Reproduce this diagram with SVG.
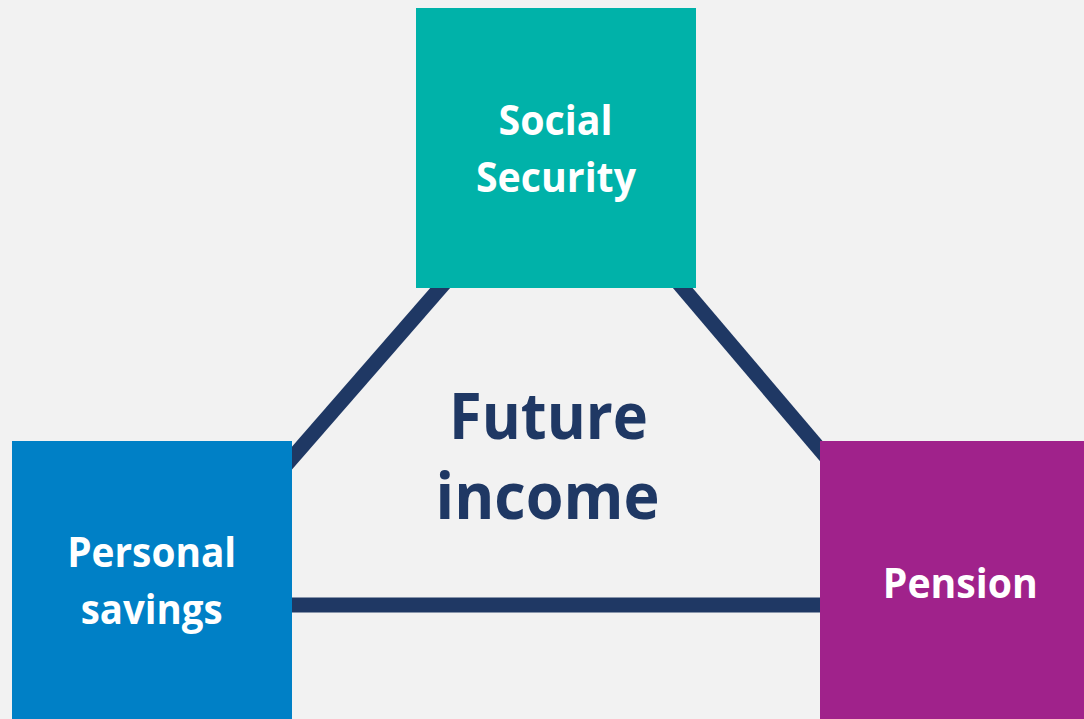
<svg xmlns="http://www.w3.org/2000/svg" width="1084" height="719" viewBox="0 0 1084 719">
  <style>
    .box-label { font-family: "Open Sans", "Liberation Sans", sans-serif; font-weight: 700; fill: #ffffff; text-anchor: middle; font-size: 42px; }
    .center-label { font-family: "Open Sans", "Liberation Sans", sans-serif; font-weight: 700; fill: #1f3864; text-anchor: middle; font-size: 65px; }
    .link { fill: none; stroke: #1f3864; stroke-width: 15; stroke-linejoin: miter; }
  </style>

  <rect width="1084" height="719" fill="#f2f2f2"/>

  <!-- triangle joining the three sources, drawn beneath the boxes -->
  <g id="connectors">
    <line class="link" x1="563" y1="147" x2="164" y2="605"/>
    <line class="link" x1="563" y1="147" x2="952" y2="605"/>
    <line class="link" x1="152" y1="605" x2="960" y2="605"/>
  </g>

  <g id="center">
    <text class="center-label" x="548.5" y="438.5" textLength="199" lengthAdjust="spacingAndGlyphs">Future</text>
    <text class="center-label" x="547.5" y="518.5" textLength="224" lengthAdjust="spacingAndGlyphs">income</text>
  </g>

  <g id="social-security">
    <rect x="416" y="8" width="280" height="280" fill="#00b2a9"/>
    <text class="box-label" x="555.5" y="135" textLength="114" lengthAdjust="spacingAndGlyphs">Social</text>
    <text class="box-label" x="556" y="192" textLength="160" lengthAdjust="spacingAndGlyphs">Security</text>
  </g>

  <g id="personal-savings">
    <rect x="12" y="441" width="280" height="278" fill="#0080c6"/>
    <text class="box-label" x="151.7" y="567" textLength="169" lengthAdjust="spacingAndGlyphs">Personal</text>
    <text class="box-label" x="151.7" y="623.5" textLength="142" lengthAdjust="spacingAndGlyphs">savings</text>
  </g>

  <g id="pension">
    <rect x="820" y="441" width="264" height="278" fill="#a0228b"/>
    <text class="box-label" x="960.3" y="597.7" textLength="155" lengthAdjust="spacingAndGlyphs">Pension</text>
  </g>
</svg>
